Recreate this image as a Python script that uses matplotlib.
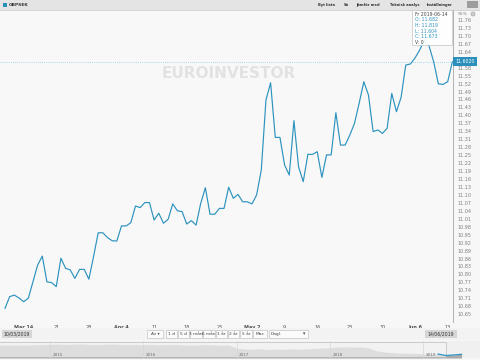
import numpy as np
import pandas as pd
import matplotlib
matplotlib.use("Agg")
import matplotlib.pyplot as plt
from matplotlib.patches import Rectangle, Ellipse
from matplotlib.lines import Line2D

W, H = 480, 360

# GBP/SEK daily closes, 2019-03-10 .. 2019-06-14
dates = pd.date_range("2019-03-10", "2019-06-14", freq="D")
closes = [
    10.672, 10.716, 10.722, 10.711, 10.697, 10.710, 10.772, 10.835, 10.869, 10.772,
    10.769, 10.754, 10.861, 10.823, 10.817, 10.785, 10.819, 10.819, 10.782, 10.867,
    10.957, 10.957, 10.939, 10.927, 10.926, 10.983, 10.983, 10.995, 11.058, 11.052,
    11.071, 11.071, 11.005, 11.031, 10.993, 11.008, 11.066, 11.040, 11.037, 10.990,
    11.003, 10.986, 11.068, 11.127, 11.027, 11.027, 11.049, 11.049, 11.129, 11.087,
    11.102, 11.074, 11.074, 11.066, 11.100, 11.194, 11.458, 11.523, 11.317, 11.317,
    11.213, 11.175, 11.380, 11.206, 11.150, 11.253, 11.253, 11.263, 11.166, 11.251,
    11.251, 11.410, 11.288, 11.288, 11.326, 11.370, 11.446, 11.527, 11.477, 11.339,
    11.345, 11.332, 11.351, 11.483, 11.414, 11.468, 11.590, 11.594, 11.617, 11.647,
    11.685, 11.662, 11.602, 11.519, 11.517, 11.527, 11.602,
]

tick_dates = pd.to_datetime([
    "2019-03-14", "2019-03-21", "2019-03-28", "2019-04-04", "2019-04-11",
    "2019-04-18", "2019-04-25", "2019-05-02", "2019-05-09", "2019-05-16",
    "2019-05-23", "2019-05-30", "2019-06-06", "2019-06-13",
])
tick_labels = ["Mar 14", "21", "28", "Apr 4", "11", "18", "25", "May 2",
               "9", "16", "23", "30", "Jun 6", "13"]

# tooltip contents
tip_lines = ["Fr 2019-06-14", "O: 11.682", "H: 11.819", "L: 11.604", "C: 11.673", "V: 0"]

# navigator (monthly, 2014-06 .. 2019-06)
nav_dates = pd.date_range("2014-06-01", periods=61, freq="MS")
nav_close = [
    11.90, 11.95, 11.92, 11.97, 11.93, 11.96, 12.00,
    12.05, 12.10, 12.02, 12.08, 12.12, 12.05, 12.00, 12.06, 12.10, 12.04, 11.98, 12.02,
    11.98, 12.03, 11.96, 12.00, 12.04, 11.97, 11.92, 11.96, 12.01, 11.95, 11.90, 11.94,
    11.40, 11.30, 11.25, 11.35, 11.20, 11.28, 11.22, 11.32, 11.25, 11.30, 11.38, 11.45, 11.50,
    11.60, 11.65, 11.58, 11.62, 11.50,
    11.00, 10.80, 10.70, 10.62, 10.58, 10.55, 10.50, 10.48, 10.45,
    10.20, 10.30, 10.40,
]
nav_years = ["2015", "2016", "2017", "2018", "2019"]

menu_items = ["Byt lista", "Sä", "Jämför med", "Teknisk analys", "Inställningar"]
period_buttons = ["Av \u25be", "1 d", "5 d", "3 mån", "6 mån", "1 år", "2 år", "5 år", "Max"]

BLUE = "#2c93bf"


def box(x, y, w, h):
    return [x / W, 1 - (y + h) / H, w / W, h / H]


def fx(x):
    return x / W


def fy(y):
    return 1 - y / H


def rect(x, y, w, h, **kw):
    r = Rectangle((fx(x), fy(y + h)), w / W, h / H, transform=fig.transFigure, **kw)
    fig.add_artist(r)
    return r


fig = plt.figure(figsize=(4.8, 3.6), dpi=100)
fig.patch.set_facecolor("#f7f7f7")

# ---- main price chart
ax = fig.add_axes(box(0, 10, 453, 312))
ax.set_facecolor("#f8f8f8")
ax.plot(dates, closes, color=BLUE, lw=0.85, zorder=3)
ax.axhline(closes[-1], color="#8ccbe6", lw=0.6, ls=(0, (1, 1.5)), zorder=2)

day = pd.Timedelta(days=1)
ax.set_xlim(dates[0] - 1.073 * day, dates[0] + 96.14 * day)
ax.set_ylim(10.6204, 11.7977)

yt = np.round(np.arange(10.65, 11.7601, 0.03), 2)
ax.set_yticks(yt)
# the label hidden behind the last-price box is left out
ax.set_yticklabels(["" if abs(v - closes[-1]) < 0.015 else "%.2f" % v for v in yt])
ax.yaxis.tick_right()
ax.tick_params(axis="y", length=0, pad=3, labelsize=3.5, labelcolor="#808080")

ax.set_xticks(tick_dates)
ax.set_xticklabels(tick_labels)
for lab in ax.get_xticklabels():
    if " " in lab.get_text():
        lab.set_fontweight("bold")
ax.tick_params(axis="x", length=0, pad=2.5, labelsize=3.5, labelcolor="#555555")

for s in ["top", "left", "bottom"]:
    ax.spines[s].set_visible(False)
ax.spines["right"].set_color("#a8a8a8")
ax.spines["right"].set_linewidth(0.6)

ax.text(0.506, 0.798, "EUROINVESTOR", transform=ax.transAxes, ha="center",
        va="center", fontsize=11, fontweight="bold", color="#e2e2e2", zorder=1)

ax.annotate("%.4f" % closes[-1], xy=(1, closes[-1]), xycoords=("axes fraction", "data"),
            xytext=(1.5, 0), textcoords="offset points", ha="left", va="center",
            fontsize=3.4, color="white", annotation_clip=False, zorder=10,
            bbox=dict(boxstyle="square,pad=0.45", fc="#2a8fbb", ec="none"))

# tooltip
rect(412, 10, 40, 35, fc="white", ec="#bdbdbd", lw=0.5, alpha=0.9, zorder=6)
for i, t in enumerate(tip_lines):
    col = "#444444" if i in (0, len(tip_lines) - 1) else BLUE
    fig.text(fx(415), fy(14 + i * 5.7), t, fontsize=3.3, color=col, va="center", zorder=7)

# right axis header
fig.text(fx(468), fy(14), "55%", fontsize=3.2, color="#808080", ha="right", va="center")
fig.add_artist(Ellipse((fx(473), fy(14)), 4 / W, 4 / H, transform=fig.transFigure,
                       fc="#d0d0d0", ec="#9a9a9a", lw=0.4))

# ---- top toolbar
rect(0, 0, 480, 9.5, fc="#e4e4e4", ec="none")
fig.add_artist(Line2D([0, 1], [fy(9.5), fy(9.5)], color="#c6c6c6", lw=0.5))
rect(2.5, 2.5, 4.5, 4.5, fc="#2a8fbb", ec="none")
fig.text(fx(9), fy(5), "GBPSEK", fontsize=3.2, color="#333333", va="center", fontweight="bold")
for x, t in zip([318, 344, 356, 390, 427], menu_items):
    fig.text(fx(x), fy(5), t, fontsize=2.6, color="#333333", va="center", fontweight="bold")
rect(467, 1.5, 11, 6.5, fc="#9c9c9c", ec="none")

# ---- controls row
rect(0, 328, 480, 12, fc="#f3f3f3", ec="none")
rect(2, 330, 30, 8, fc="#d6d6d6", ec="none")
fig.text(fx(17), fy(334), "10/03/2019", fontsize=3.3, color="#333333", ha="center", va="center")
rect(425, 330, 32, 8, fc="#d6d6d6", ec="none")
fig.text(fx(441), fy(334), "14/06/2019", fontsize=3.3, color="#333333", ha="center", va="center")

bx = [147, 166, 178, 190, 203, 216, 228, 240, 253]
bw = [16, 11, 11, 12, 12, 11, 11, 12, 14]
for x, w, t in zip(bx, bw, period_buttons):
    rect(x, 330, w, 8, fc="#fbfbfb", ec="#b8b8b8", lw=0.4)
    fig.text(fx(x + w / 2), fy(334), t, fontsize=3.1, color="#444444", ha="center", va="center")
rect(269, 330, 39, 8, fc="#fbfbfb", ec="#b8b8b8", lw=0.4)
fig.text(fx(271), fy(334), "Dagl.", fontsize=3.1, color="#444444", va="center")
fig.text(fx(304), fy(334), "\u25be", fontsize=3.4, color="#444444", ha="center", va="center")

# ---- navigator
nav = fig.add_axes(box(0, 341, 480, 17))
nav.set_facecolor("#f0f0f0")
nav.fill_between(nav_dates, nav_close, 9.8, color="#a9a9a9", lw=0)
nav.plot(nav_dates[-4:], nav_close[-4:], color=BLUE, lw=0.9)
year_start = pd.Timestamp("2015-01-01")
px_per_day = 93.25 / 365.25
nav.set_xlim(year_start - pd.Timedelta(days=50 / px_per_day),
             year_start + pd.Timedelta(days=430 / px_per_day))
nav.set_ylim(9.8, 12.6)
for y in nav_years:
    d = pd.Timestamp(y + "-01-01")
    nav.axvline(d, color="#d6d6d6", lw=0.5)
    nav.text(d + pd.Timedelta(days=10), 10.35, y, fontsize=3.0, color="#6f6f6f", va="center")
nav.axvspan(pd.Timestamp("2019-04-01"), nav.get_xlim()[1], ymin=0.08, ymax=0.92,
            fc="#f4f4f4", ec="#a8a8a8", lw=0.5, alpha=0.7)
nav.set_xticks([])
nav.set_yticks([])
for s in nav.spines.values():
    s.set_visible(False)

fig.savefig("out.png", dpi=100, facecolor=fig.get_facecolor())
